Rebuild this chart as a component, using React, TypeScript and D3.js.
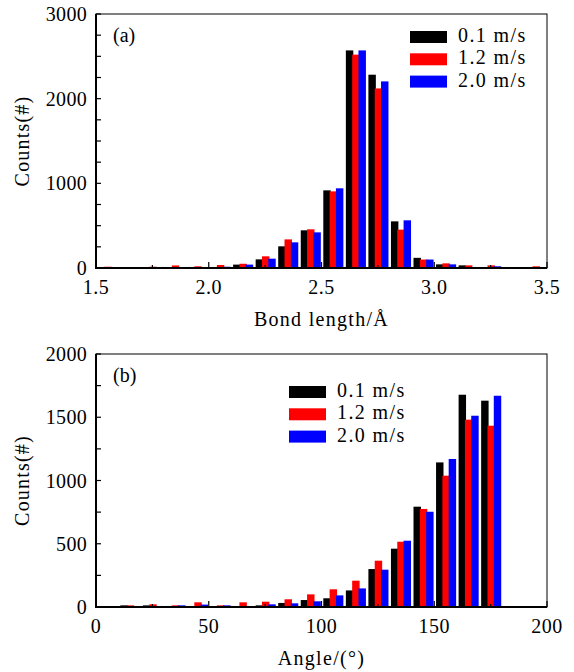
import * as d3 from "d3";

// (a) bond length histogram, bins of 0.1 Å starting at 1.5
const bondBins = d3.range(20).map((i) => +(1.5 + i * 0.1).toFixed(1));
const bondSlow = [5, 0, 10, 5, 5, 5, 40, 102, 256, 445, 917, 2570, 2283, 551, 120, 43, 31, 5, 5, 3];
const bondMid = [15, 0, 15, 30, 20, 35, 50, 138, 338, 457, 905, 2520, 2121, 453, 100, 55, 31, 31, 5, 20];
const bondFast = [3, 0, 5, 5, 5, 15, 40, 110, 303, 421, 941, 2570, 2204, 563, 100, 43, 5, 20, 5, 3];
const bondXTicks = [1.5, 2.0, 2.5, 3.0, 3.5];
const bondYTicks = [0, 1000, 2000, 3000];

// (b) bond angle histogram, bins of 10° starting at 0
const angleBins = d3.range(18).map((i) => i * 10);
const angleSlow = [3, 13, 13, 8, 5, 5, 5, 13, 32, 55, 69, 131, 300, 461, 793, 1143, 1678, 1631];
const angleMid = [3, 13, 21, 13, 37, 13, 37, 42, 61, 100, 140, 208, 366, 516, 775, 1038, 1481, 1433];
const angleFast = [3, 3, 8, 13, 19, 13, 5, 21, 29, 45, 92, 147, 295, 524, 753, 1170, 1512, 1670];
const angleXTicks = [0, 50, 100, 150, 200];
const angleYTicks = [0, 500, 1000, 1500, 2000];

const seriesNames = ["0.1 m/s", "1.2 m/s", "2.0 m/s"];
const COLORS = ["#000000", "#ff0000", "#0000ff"];

const FONT = "'Liberation Serif', 'Times New Roman', serif";
const FS = 20;

type PanelProps = {
  top: number;
  bottom: number;
  bins: number[];
  binW: number;
  series: number[][];
  xDomain: [number, number];
  yMax: number;
  xTicks: number[];
  xMinor: number;
  xFmt: (d: number) => string;
  yTicks: number[];
  yMinor: number;
  tag: string;
  xTitle: string;
  legendX: number;
  legendY: number;
};

function Panel(p: PanelProps) {
  const left = 96, right = 547;
  const x = d3.scaleLinear().domain(p.xDomain).range([left, right]);
  const y = d3.scaleLinear().domain([0, p.yMax]).range([p.bottom, p.top]);
  const offs = [0.08, 0.36, 0.64];
  const bw = 0.33;
  const xMinorTicks = d3.range(p.xDomain[0], p.xDomain[1] + 1e-9, p.xMinor);
  const yMinorTicks = d3.range(0, p.yMax + 1e-9, p.yMinor);

  return (
    <g>
      {p.series.map((vals, s) => (
        <g key={s} fill={COLORS[s]}>
          {vals.map((v, i) => {
            const x0 = x(p.bins[i] + offs[s] * p.binW);
            const x1 = x(p.bins[i] + (offs[s] + bw) * p.binW);
            return <rect key={i} x={x0} y={y(v)} width={x1 - x0} height={y(0) - y(v)} />;
          })}
        </g>
      ))}

      {/* frame */}
      <rect x={left} y={p.top} width={right - left} height={p.bottom - p.top} fill="none" stroke="#000" strokeWidth={1} />
      <line x1={left} x2={left} y1={p.top} y2={p.bottom} stroke="#000" strokeWidth={2} />
      <line x1={left - 1} x2={right} y1={p.bottom} y2={p.bottom} stroke="#000" strokeWidth={2} />

      {xMinorTicks.map((t) => {
        const major = p.xTicks.some((m) => Math.abs(m - t) < 1e-6);
        return <line key={"xm" + t} x1={x(t)} x2={x(t)} y1={p.bottom} y2={p.bottom - (major ? 6 : 3)} stroke="#000" strokeWidth={1.2} />;
      })}
      {yMinorTicks.map((t) => (
        <line key={"ym" + t} x1={left} x2={left + 5} y1={y(t)} y2={y(t)} stroke="#000" strokeWidth={1.2} />
      ))}

      <g fontFamily={FONT} fontSize={FS} fill="#000">
        {p.xTicks.map((t) => (
          <text key={"xt" + t} x={x(t)} y={p.bottom + 26} textAnchor="middle" letterSpacing={0.5}>{p.xFmt(t)}</text>
        ))}
        {p.yTicks.map((t) => (
          <text key={"yt" + t} x={left - 9} y={y(t)} dy="0.35em" textAnchor="end" letterSpacing={0.3}>{t}</text>
        ))}
        <text x={113} y={p.top + 28}>{p.tag}</text>
        <text x={(left + right) / 2} y={p.bottom + 58} textAnchor="middle" letterSpacing={1.3}>{p.xTitle}</text>
        <text transform={`translate(29,${(p.top + p.bottom) / 2}) rotate(-90)`} textAnchor="middle" letterSpacing={1.2}>Counts(#)</text>
        {seriesNames.map((name, s) => (
          <g key={name}>
            <rect x={p.legendX} y={p.legendY + s * 22.3} width={37} height={12} fill={COLORS[s]} />
            <text x={p.legendX + 48} y={p.legendY + 11 + s * 22.3} letterSpacing={1.4}>{name}</text>
          </g>
        ))}
      </g>
    </g>
  );
}

export default function App() {
  return (
    <svg width={574} height={672} style={{ position: "absolute", left: 0, top: 0, background: "#fff" }}>
      <Panel
        top={14}
        bottom={268}
        bins={bondBins}
        binW={0.1}
        series={[bondSlow, bondMid, bondFast]}
        xDomain={[1.5, 3.5]}
        yMax={3000}
        xTicks={bondXTicks}
        xMinor={0.25}
        xFmt={(d) => d.toFixed(1)}
        yTicks={bondYTicks}
        yMinor={250}
        tag="(a)"
        xTitle="Bond length/Å"
        legendX={410}
        legendY={31}
      />
      <Panel
        top={354}
        bottom={607}
        bins={angleBins}
        binW={10}
        series={[angleSlow, angleMid, angleFast]}
        xDomain={[0, 200]}
        yMax={2000}
        xTicks={angleXTicks}
        xMinor={25}
        xFmt={(d) => String(d)}
        yTicks={angleYTicks}
        yMinor={250}
        tag="(b)"
        xTitle="Angle/(°)"
        legendX={289}
        legendY={386}
      />
    </svg>
  );
}
